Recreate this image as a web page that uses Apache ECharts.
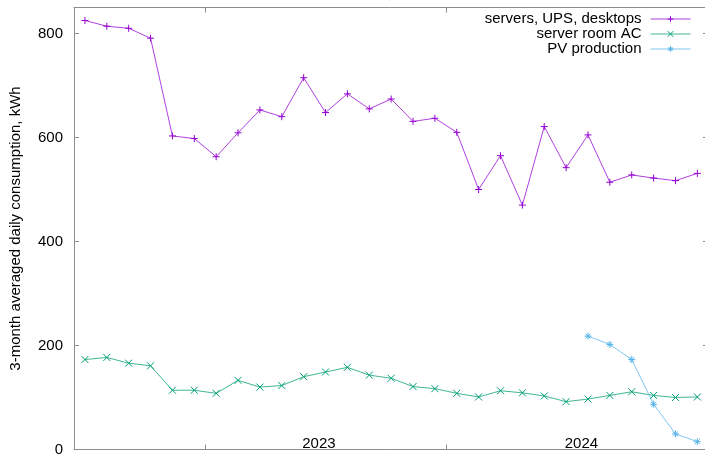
<!DOCTYPE html>
<html>
<head>
<meta charset="utf-8">
<script src="https://cdn.jsdelivr.net/npm/echarts@6/dist/echarts.min.js"></script>
<style>
html,body{margin:0;padding:0;background:#fff;}
#chart{width:705px;height:457px;}
</style>
</head>
<body>
<div id="chart"></div>
<script>
// Data (index = successive 3-month averaging points)
const seriesNames = ['servers, UPS, desktops', 'server room AC', 'PV production'];
const servers = [825, 814, 810, 791, 603, 598, 563, 609, 653, 640, 715, 648, 684, 655, 674, 631, 637, 610, 500, 565, 470, 621, 542, 605, 514, 528, 522, 517, 531];
const serverRoomAC = [173, 177, 166, 161, 114, 114, 108, 133, 120, 123, 140, 149, 158, 143, 137, 121, 117, 108, 101, 113, 109, 103, 92, 97, 104, 111, 104, 100, 101];
const pvStartIndex = 23;
const pvProduction = [218, 202, 173, 87, 30, 15];
const yTicks = [0, 200, 400, 600, 800];
const yearTickPos = [5.5, 16.5];
const yearLabelPos = [10.7, 22.7];
const yearLabels = ['2023', '2024'];

const colors = ['#9400d3', '#009e73', '#56b4e9'];
const symbols = [
  'path://M0,5L10,5M5,0L5,10',
  'path://M0,0L10,10M10,0L0,10',
  'path://M0,5L10,5M5,0L5,10M1.5,1.5L8.5,8.5M8.5,1.5L1.5,8.5'
];

const d0 = servers.map((v, i) => [i, v]);
const d1 = serverRoomAC.map((v, i) => [i, v]);
const d2 = pvProduction.map((v, i) => [pvStartIndex + i, v]);

function mk(name, data, k) {
  return {
    name: name, type: 'line', data: data,
    xAxisIndex: 0, yAxisIndex: 0,
    symbol: symbols[k], symbolSize: 7,
    lineStyle: {color: colors[k], width: 1, opacity: 0.75},
    itemStyle: {color: colors[k], borderColor: colors[k], borderWidth: 1},
    emphasis: {disabled: true},
    animation: false
  };
}

const labelFont = {fontFamily: 'Liberation Sans, Arial, sans-serif', fontSize: 15, color: '#000'};
const axisGray = '#8c8c8c';
const showLine = {show: true, onZero: false, lineStyle: {color: axisGray, width: 1}};
const noLine = {show: false, onZero: false};

const chart = echarts.init(document.getElementById('chart'));
chart.setOption({
  animation: false,
  backgroundColor: '#fff',
  grid: {left: 74, top: 7.5, right: 0, bottom: 2, show: false, containLabel: false},
  legend: {
    orient: 'vertical', align: 'right', right: 14, top: 11.5, padding: 0,
    itemWidth: 40, itemHeight: 7, itemGap: 0,
    lineStyle: {width: 1, opacity: 0.75},
    itemStyle: {borderWidth: 1},
    textStyle: Object.assign({lineHeight: 15, padding: [0, 4, 0, 0]}, labelFont),
    data: seriesNames
  },
  xAxis: [
    {
      type: 'value', min: -0.5, max: 28.35, position: 'bottom',
      axisLine: showLine, splitLine: {show: false},
      axisTick: {show: true, inside: true, length: 5, customValues: yearTickPos, lineStyle: {color: axisGray}},
      axisLabel: Object.assign({show: true, inside: true, margin: -2, customValues: yearLabelPos,
        formatter: v => yearLabels[yearLabelPos.indexOf(v)] || ''}, labelFont)
    },
    {
      type: 'value', min: -0.5, max: 28.35, position: 'top',
      axisLine: showLine, splitLine: {show: false},
      axisTick: {show: true, inside: true, length: 5, customValues: yearTickPos, lineStyle: {color: axisGray}},
      axisLabel: {show: false}
    }
  ],
  yAxis: [
    {
      type: 'value', min: 0, max: 850, position: 'left',
      name: '3-month averaged daily consumption, kWh', nameLocation: 'middle', nameRotate: 90, nameGap: 51,
      nameTextStyle: labelFont,
      axisLine: showLine, splitLine: {show: false},
      axisTick: {show: true, inside: true, length: 5, customValues: yTicks, lineStyle: {color: axisGray}},
      axisLabel: Object.assign({margin: 11, customValues: yTicks}, labelFont)
    },
    {
      type: 'value', min: 0, max: 850, position: 'right',
      axisLine: noLine, splitLine: {show: false},
      axisTick: {show: true, inside: true, length: 2, customValues: yTicks, lineStyle: {color: axisGray}},
      axisLabel: {show: false}
    }
  ],
  series: [mk(seriesNames[0], d0, 0), mk(seriesNames[1], d1, 1), mk(seriesNames[2], d2, 2)]
});
</script>
</body>
</html>
